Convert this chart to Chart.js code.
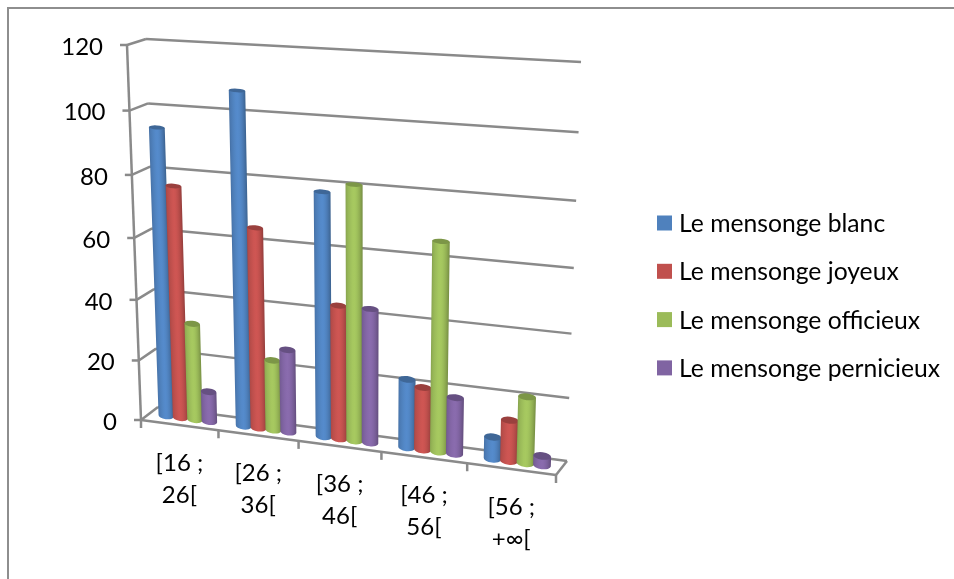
<!DOCTYPE html>
<html>
<head>
<meta charset="utf-8">
<style>
  html, body { margin: 0; padding: 0; background: #fff; }
  canvas { display: block; }
</style>
<script src="https://cdn.jsdelivr.net/npm/chart.js@4"></script>
</head>
<body>
<canvas id="lies_chart" width="954" height="579"></canvas>
<script>
// Age brackets and counts per kind of lie
const ageBrackets = [['[16 ;', '26['], ['[26 ;', '36['], ['[36 ;', '46['], ['[46 ;', '56['], ['[56 ;', '+∞[']];
const blancValues = [94, 107, 78, 22, 7];
const joyeuxValues = [76, 65, 43, 20, 13];
const officieuxValues = [32, 23, 81, 66, 21];
const pernicieuxValues = [10, 27, 43, 18, 3];
const seriesNames = ['Le mensonge blanc', 'Le mensonge joyeux', 'Le mensonge officieux', 'Le mensonge pernicieux'];
const seriesColors = ['#4F81BD', '#C0504D', '#9BBB59', '#8064A2'];

const FONT = 'Lato, "Open Sans", sans-serif';
const LINE = '#8a8a8a';

// Corners of the back wall and the front plane of the 3D box, bottom-left first
const backCorners = [[158, 407], [567, 461], [581, 62], [146, 39]];
const frontCorners = [[141, 420], [556, 475], [568, 68], [127, 45]];

// Unit square to quad homography
function makeHomography(q) {
    const [[x0, y0], [x1, y1], [x2, y2], [x3, y3]] = q;
    const dx1 = x1 - x2, dx2 = x3 - x2, sx = x0 - x1 + x2 - x3;
    const dy1 = y1 - y2, dy2 = y3 - y2, sy = y0 - y1 + y2 - y3;
    const den = dx1 * dy2 - dx2 * dy1;
    const g = (sx * dy2 - dx2 * sy) / den;
    const h = (dx1 * sy - sx * dy1) / den;
    const a = x1 - x0 + g * x1, b = x3 - x0 + h * x3;
    const d = y1 - y0 + g * y1, e = y3 - y0 + h * y3;
    return (u, t) => {
        const w = g * u + h * t + 1;
        return [(a * u + b * t + x0) / w, (d * u + e * t + y0) / w];
    };
}
const backPlane = makeHomography(backCorners);
const frontPlane = makeHomography(frontCorners);

// depth 0 is the back wall, depth 1 the front plane
function project(u, t, depth) {
    const p = backPlane(u, t), q = frontPlane(u, t);
    return [p[0] + (q[0] - p[0]) * depth, p[1] + (q[1] - p[1]) * depth];
}

function segment(ctx, a, b) {
    ctx.beginPath();
    ctx.moveTo(a[0], a[1]);
    ctx.lineTo(b[0], b[1]);
    ctx.stroke();
}

function shade(hex, k) {
    const n = parseInt(hex.slice(1), 16);
    const ch = s => Math.min(255, Math.round(((n >> s) & 255) * k));
    return `rgb(${ch(16)},${ch(8)},${ch(0)})`;
}

// Brightness across the width of a cylinder, 0 = left edge, 1 = right edge
function cylinderLight(s) {
    if (s < 0.45) return 0.8 + (1.08 - 0.8) * Math.sqrt(s / 0.45);
    return 1.08 - (1.08 - 0.7) * Math.pow((s - 0.45) / 0.55, 2);
}

const box3d = {
    id: 'box3d',
    beforeDraw(chart) {
        const ctx = chart.ctx;
        ctx.save();
        ctx.fillStyle = '#fff';
        ctx.fillRect(0, 0, chart.width, chart.height);
        // outer frame of the chart object
        ctx.strokeStyle = '#8e8e8e';
        ctx.lineWidth = 2;
        ctx.beginPath();
        ctx.moveTo(8, chart.height);
        ctx.lineTo(8, 8);
        ctx.lineTo(chart.width, 8);
        ctx.stroke();
        ctx.restore();
    },
    beforeDatasetsDraw(chart) {
        const ctx = chart.ctx, area = chart.chartArea;
        const xs = chart.scales.x, ys = chart.scales.y;
        const toT = px => (area.bottom - px) / area.height;
        const toU = px => (px - area.left) / area.width;
        ctx.save();
        ctx.strokeStyle = LINE;
        ctx.lineWidth = 2.5;
        ctx.fillStyle = '#000';
        ctx.font = '24px ' + FONT;

        // gridlines, side wall diagonals, value ticks and value labels
        ctx.textAlign = 'right';
        ctx.textBaseline = 'middle';
        ys.ticks.forEach(tick => {
            const t = toT(ys.getPixelForValue(tick.value));
            const back0 = project(0, t, 0), back1 = project(1, t, 0), front = project(0, t, 1);
            segment(ctx, back0, back1);
            segment(ctx, back0, front);
            segment(ctx, front, [front[0] - 7, front[1]]);
            ctx.fillText(tick.label, front[0] - 24, front[1] + 2);
        });

        // front axis and floor outline
        segment(ctx, project(0, 1, 1), project(0, 0, 1));
        segment(ctx, project(0, 0, 1), project(1, 0, 1));
        segment(ctx, project(1, 0, 1), project(1, 0, 0));

        // category ticks and labels under the front edge
        ctx.textAlign = 'center';
        const n = chart.data.labels.length;
        for (let i = 0; i <= n; i++) {
            const p = project(toU(xs.getPixelForValue(i - 0.5)), 0, 1);
            segment(ctx, p, [p[0], p[1] + 8]);
        }
        chart.data.labels.forEach((lines, i) => {
            const p = project(toU(xs.getPixelForValue(i)), 0, 1);
            lines.forEach((line, j) => ctx.fillText(line, p[0], p[1] + 38 + j * 32));
        });
        ctx.restore();
    },
    // the flat rectangles are replaced by the cylinders below
    beforeDatasetDraw() {
        return false;
    },
    afterDatasetsDraw(chart) {
        const ctx = chart.ctx, area = chart.chartArea;
        const toT = px => (area.bottom - px) / area.height;
        const toU = px => (px - area.left) / area.width;
        const DEPTH = 0.5, RADIUS = 0.27;
        chart.data.labels.forEach((_, i) => {
            chart.data.datasets.forEach((ds, k) => {
                const bar = chart.getDatasetMeta(k).data[i];
                const uc = toU(bar.x), half = bar.width * 0.53 / area.width;
                const t = toT(bar.y), t0 = toT(bar.base);
                const color = seriesColors[k];

                const ry0 = Math.abs(project(uc, t0, DEPTH + RADIUS)[1] - project(uc, t0, DEPTH - RADIUS)[1]) / 2;
                const ry1 = Math.abs(project(uc, t, DEPTH + RADIUS)[1] - project(uc, t, DEPTH - RADIUS)[1]) / 2;

                const topL = project(uc - half, t, DEPTH), topR = project(uc + half, t, DEPTH);
                const botL = project(uc - half, t0, DEPTH), botR = project(uc + half, t0, DEPTH);
                const topC = [(topL[0] + topR[0]) / 2, (topL[1] + topR[1]) / 2];
                const botC = [(botL[0] + botR[0]) / 2, (botL[1] + botR[1]) / 2];

                ctx.save();
                // body with a rounded bottom
                ctx.beginPath();
                ctx.ellipse(botC[0], botC[1], Math.hypot(botR[0] - botL[0], botR[1] - botL[1]) / 2, ry0,
                    Math.atan2(botR[1] - botL[1], botR[0] - botL[0]), 0, Math.PI);
                ctx.lineTo(topL[0], topL[1]);
                ctx.lineTo(topR[0], topR[1]);
                ctx.closePath();

                // shear the gradient along the leaning bar axis
                const lean = (topC[0] - botC[0]) / (topC[1] - botC[1]);
                ctx.transform(1, 0, lean, 1, -lean * botC[1], 0);
                const grad = ctx.createLinearGradient(botL[0] - 1, 0, botR[0] + 1, 0);
                for (let s = 0; s <= 10; s++) grad.addColorStop(s / 10, shade(color, cylinderLight(s / 10)));
                ctx.fillStyle = grad;
                ctx.fill();
                ctx.restore();

                // top cap
                ctx.fillStyle = shade(color, 0.8);
                ctx.beginPath();
                ctx.ellipse(topC[0], topC[1], Math.hypot(topR[0] - topL[0], topR[1] - topL[1]) / 2, ry1,
                    Math.atan2(topR[1] - topL[1], topR[0] - topL[0]), 0, Math.PI * 2);
                ctx.fill();
            });
        });

        // legend
        ctx.save();
        ctx.font = '24.7px ' + FONT;
        ctx.textAlign = 'left';
        ctx.textBaseline = 'middle';
        chart.data.datasets.forEach((ds, k) => {
            const y = 223 + k * 48.3;
            ctx.fillStyle = ds.backgroundColor;
            ctx.fillRect(657, y - 7.5, 15, 15);
            ctx.fillStyle = '#000';
            ctx.fillText(ds.label, 679, y + 1);
        });
        ctx.restore();
    }
};

const allValues = [blancValues, joyeuxValues, officieuxValues, pernicieuxValues];

new Chart(document.getElementById('lies_chart').getContext('2d'), {
    type: 'bar',
    data: {
        labels: ageBrackets,
        datasets: allValues.map((values, k) => ({
            label: seriesNames[k],
            data: values,
            backgroundColor: seriesColors[k],
            barPercentage: 1,
            categoryPercentage: 0.75
        }))
    },
    options: {
        responsive: false,
        animation: false,
        layout: { padding: { left: 141, right: 387, top: 60, bottom: 119 } },
        scales: {
            x: { display: false },
            y: { display: false, min: 0, max: 120, ticks: { stepSize: 20 } }
        },
        plugins: {
            legend: { display: false },
            tooltip: { enabled: false }
        }
    },
    plugins: [box3d]
});
</script>
</body>
</html>
